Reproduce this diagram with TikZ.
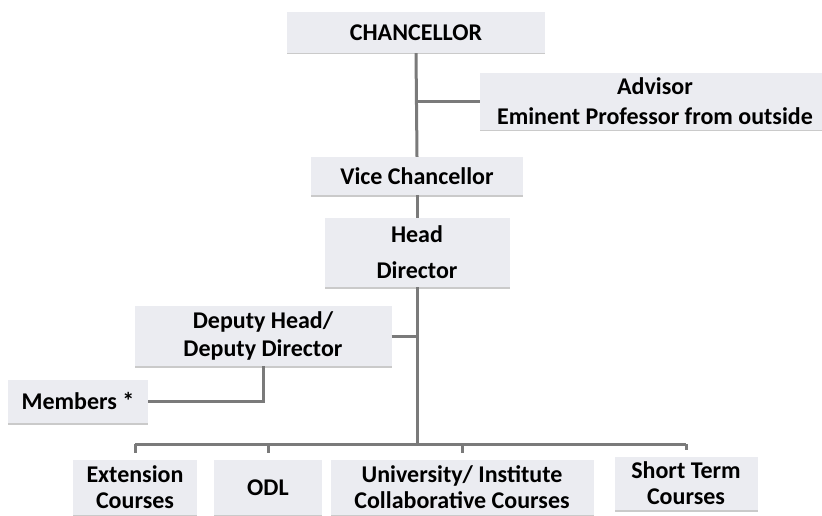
\documentclass[tikz,border=0pt]{standalone}
\usepackage{fontspec}
\setmainfont{Carlito}
\usetikzlibrary{shadows}
\definecolor{cajagris}{RGB}{235,236,241}
\definecolor{lineagris}{RGB}{122,122,122}
\tikzset{
  caja/.style={fill=cajagris, align=center, inner sep=0pt,
    font=\bfseries\fontsize{24}{26}\selectfont,
    drop shadow={shadow xshift=0pt, shadow yshift=-1.5pt, fill=gray!70, opacity=0.6}},
  linea/.style={draw=lineagris, line width=3pt},
}
\begin{document}
\begin{tikzpicture}[x=1pt, y=-1pt]
      \useasboundingbox (0,0) rectangle (822,516);

      % Cajas superiores
      \node[caja, minimum width=258pt, minimum height=41pt] (chan) at (416,32.5) {CHANCELLOR};
      \node[caja, minimum width=350pt, minimum height=57pt] (advisor) at (655,101.5) {Advisor\\[4pt]Eminent Professor from outside};
      \node[caja, minimum width=212pt, minimum height=38pt] (vice) at (417,176) {Vice Chancellor};
      \node[caja, minimum width=185pt, minimum height=69pt] (head) at (417,252.5) {Head\\[10pt]Director};

      % Cajas intermedias
      \node[caja, minimum width=257pt, minimum height=60pt] (deputy) at (263,336) {Deputy Head/\\[2pt]Deputy Director};
      \node[caja, minimum width=140pt, minimum height=43pt] (members) at (78,401.5) {Members *};

      % Cajas de cursos
      \node[caja, minimum width=124pt, minimum height=55pt] (ext) at (135,487.5) {Extension\\Courses};
      \node[caja, minimum width=108pt, minimum height=55pt] (odl) at (268,487.5) {ODL};
      \node[caja, minimum width=263pt, minimum height=55pt] (univ) at (462,487.5) {University/ Institute\\Collaborative Courses};
      \node[caja, minimum width=143pt, minimum height=53pt] (short) at (686,483.5) {Short Term\\Courses};
      \coordinate (bus) at (417,444);

      % Conexiones
      \draw[linea] (chan.south) -- (vice.north);
      \draw[linea] (advisor.west) -- (advisor.west -| vice.north);
      \draw[linea] (vice.south) -- (head.north);
      \draw[linea] (head.south) -- (bus);
      \draw[linea] (deputy.east) -- (deputy.east -| bus);
      \draw[linea] (deputy.south) |- (members.east);

      % Barra de cursos
      \draw[linea] (ext.north |- bus) -- (short.north |- bus);
      \foreach \n in {ext,odl,univ,short}
        \draw[linea] (\n.north |- bus) -- ([yshift=7pt]\n.north);
    \end{tikzpicture}
\end{document}
